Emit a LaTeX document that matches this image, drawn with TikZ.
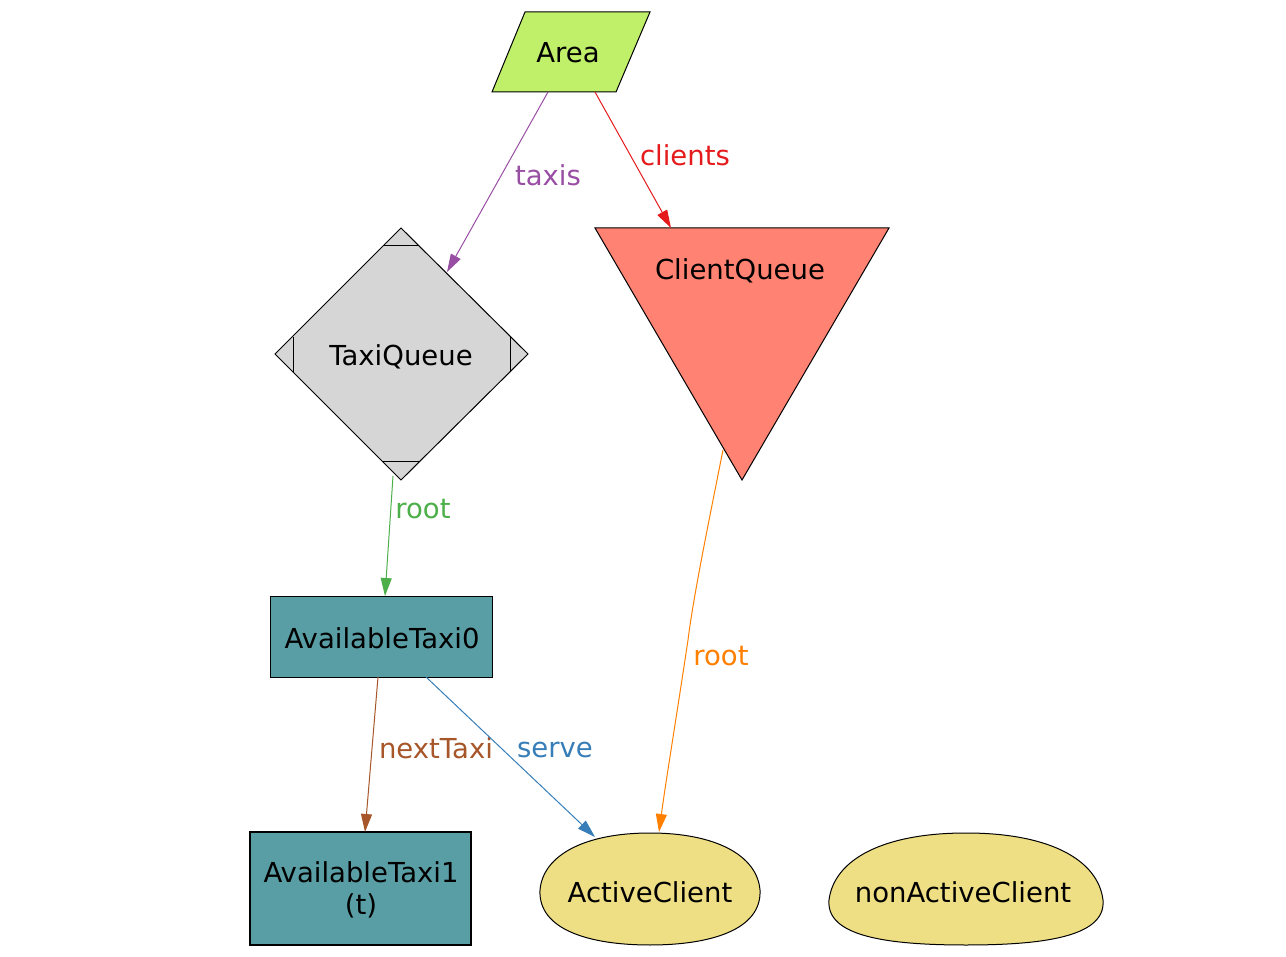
\documentclass[tikz,border=0pt]{standalone}
\usepackage{fontspec}
\setmainfont{DejaVu Sans}
\usetikzlibrary{arrows.meta}
\definecolor{areaC}{HTML}{C0EF6A}
\definecolor{cqC}{HTML}{FF8272}
\definecolor{tqC}{HTML}{D6D6D6}
\definecolor{taxiC}{HTML}{5A9EA5}
\definecolor{eggC}{HTML}{EFDF84}
\definecolor{purpleE}{HTML}{984EA3}
\definecolor{redE}{HTML}{E41A1C}
\definecolor{greenE}{HTML}{4DAF4A}
\definecolor{orangeE}{HTML}{FF7F00}
\definecolor{brownE}{HTML}{A65628}
\definecolor{blueE}{HTML}{377EB8}
\tikzset{
  shapeline/.style={draw=black, line width=1pt},
  txt/.style={font=\fontsize{27.5}{32}\selectfont, text=black, inner sep=0pt, align=center},
  lbl/.style={font=\fontsize{27.5}{32}\selectfont, inner sep=0pt},
  edge/.style={line width=1pt, -{Triangle[length=18pt,width=11pt]}},
}
\begin{document}
\begin{tikzpicture}[x=1pt,y=-1pt]
\useasboundingbox (0,0) rectangle (1286,957);
% Area
\filldraw[shapeline, fill=areaC] (525,12) -- (650,12) -- (616,92) -- (492,92) -- cycle;
\node[txt] (area) at (568,53) {Area};
% ClientQueue
\filldraw[shapeline, fill=cqC] (595,228) -- (889,228) -- (742,480) -- cycle;
\node[txt] (cq) at (740,271) {ClientQueue};
% TaxiQueue
\filldraw[shapeline, fill=tqC] (401,228) -- (528,354) -- (401,480) -- (275,354) -- cycle;
\draw[shapeline] (383,246) -- (419,246);
\draw[shapeline] (383,462) -- (419,462);
\draw[shapeline] (293,337) -- (293,372);
\draw[shapeline] (510,337) -- (510,372);
\node[txt] (tq) at (401,357) {TaxiQueue};
% AvailableTaxi0
\filldraw[shapeline, fill=taxiC] (270,596) rectangle (492,677);
\node[txt] (at0) at (382,638) {AvailableTaxi0};
% AvailableTaxi1
\filldraw[draw=black, line width=2.5pt, fill=taxiC] (250,832) rectangle (471,945);
\node[txt] (at1) at (361,890) {AvailableTaxi1\\(t)};
% ActiveClient egg
\filldraw[shapeline, fill=eggC] (650,833)
  .. controls (715,833) and (757,855) .. (760,890)
  .. controls (762,930) and (710,945) .. (650,945)
  .. controls (590,945) and (538,930) .. (540,890)
  .. controls (543,855) and (585,833) .. (650,833) -- cycle;
\node[txt] (ac) at (650,892) {ActiveClient};
% nonActiveClient egg
\filldraw[shapeline, fill=eggC] (966,833)
  .. controls (1050,833) and (1098,860) .. (1103,900)
  .. controls (1106,935) and (1050,945) .. (966,945)
  .. controls (882,945) and (826,935) .. (829,900)
  .. controls (834,860) and (882,833) .. (966,833) -- cycle;
\node[txt] (nac) at (963,892) {nonActiveClient};
% edge end points
\coordinate (areaS1) at (548,92);
\coordinate (tqNE) at (447,272);
\coordinate (areaS2) at (595,92);
\coordinate (cqN) at (671,228);
\coordinate (tqS) at (393,476);
\coordinate (at0N) at (385,596);
\coordinate (cqS) at (723,450);
\coordinate (acN1) at (659,832);
\coordinate (at0S1) at (378,677);
\coordinate (at1N) at (365,832);
\coordinate (at0S2) at (426,677);
\coordinate (acN2) at (595,837);
% edges
\draw[edge, draw=purpleE] (areaS1) -- (tqNE);
\node[lbl, text=purpleE] (lt) at (548,175) {taxis};
\draw[edge, draw=redE] (areaS2) -- (cqN);
\node[lbl, text=redE] (lc) at (685,155) {clients};
\draw[edge, draw=greenE] (tqS) -- (at0N);
\node[lbl, text=greenE] (lr1) at (423,509) {root};
\draw[edge, draw=orangeE] (cqS) .. controls (705,540) and (693,600) .. (688,640) .. controls (676,720) and (666,780) .. (acN1);
\node[lbl, text=orangeE] (lr2) at (721,656) {root};
\draw[edge, draw=brownE] (at0S1) -- (at1N);
\node[lbl, text=brownE] (ln) at (436,748) {nextTaxi};
\draw[edge, draw=blueE] (at0S2) -- (acN2);
\node[lbl, text=blueE] (ls) at (555,750) {serve};
\end{tikzpicture}
\end{document}
